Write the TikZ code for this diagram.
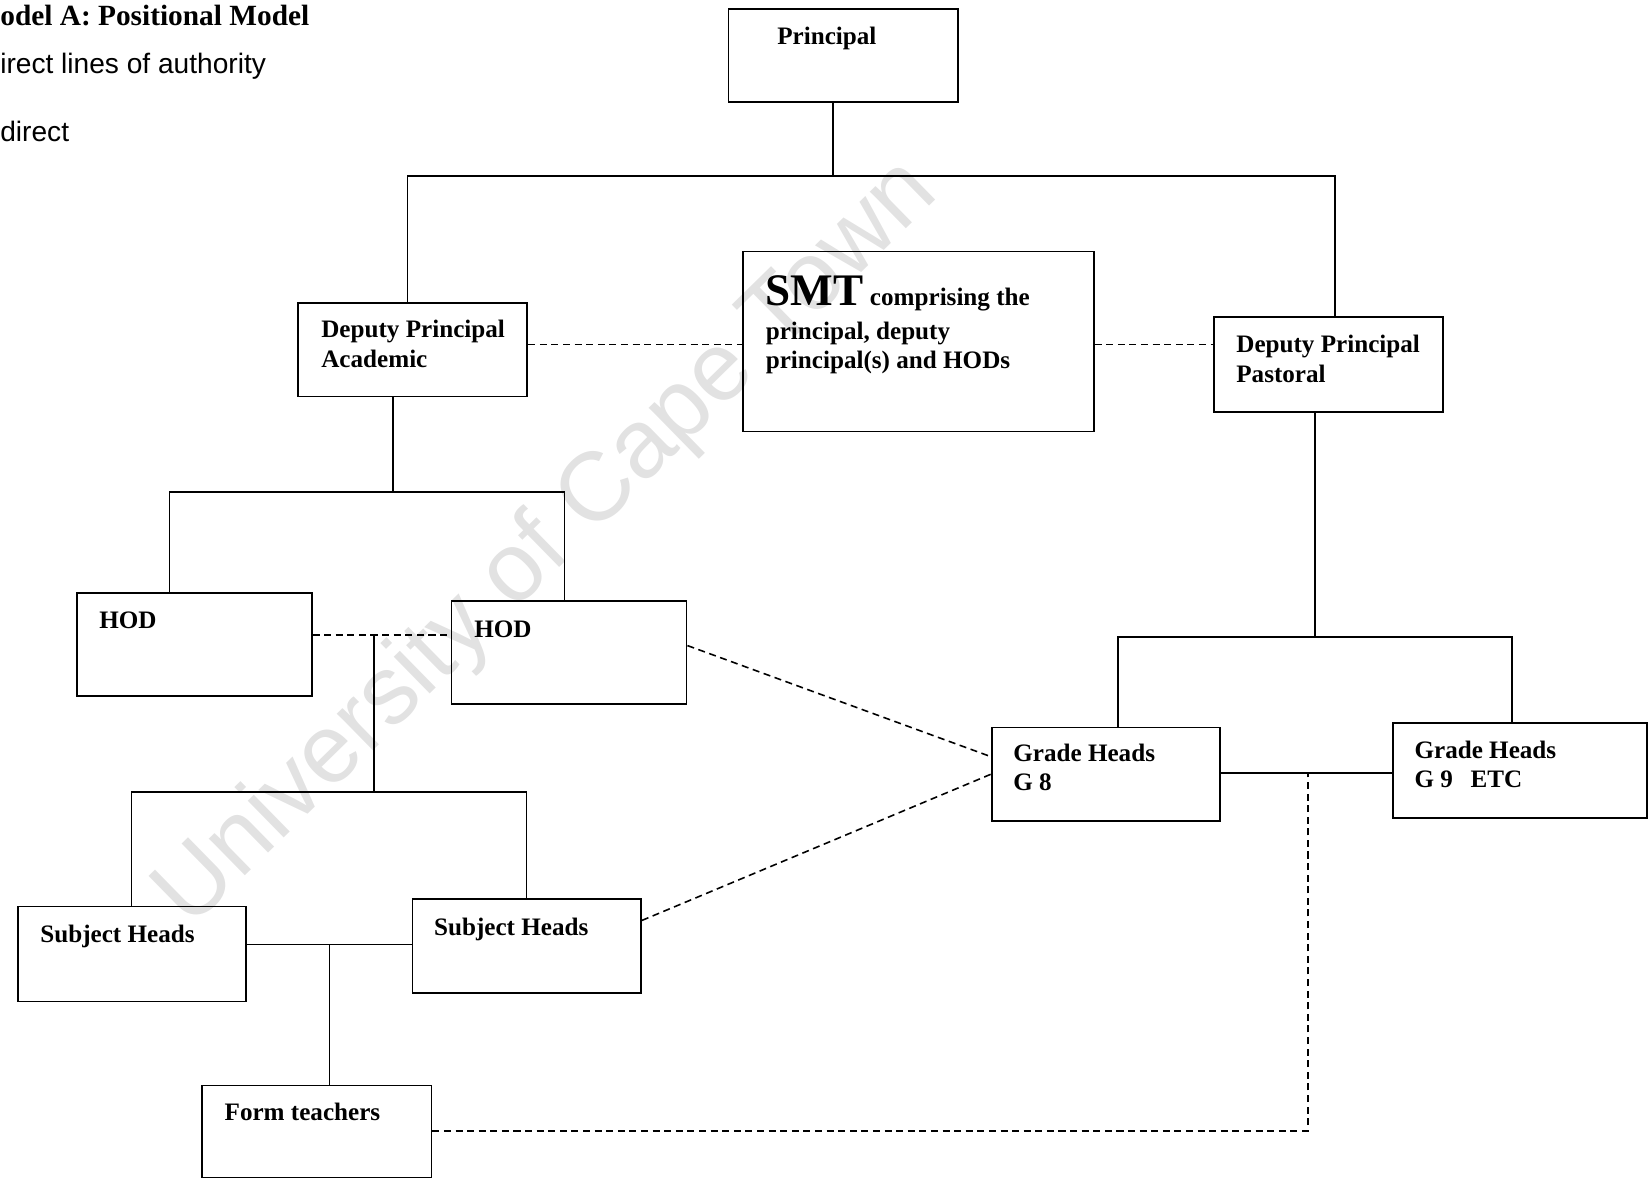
\documentclass[tikz,border=0pt]{standalone}
\usepackage{fontspec}
\usepackage{xcolor}
\setmainfont{Liberation Serif}
\newfontfamily\labelsans{Liberation Sans}

\begin{document}
\begin{tikzpicture}[x=0.02cm,y=-0.02cm,
  orgbox/.style={draw,line width=1pt,anchor=north west,inner sep=0pt},
  boxtext/.style={anchor=base west,inner sep=0pt,align=left,font=\bfseries\fontsize{14.3}{16.8}\selectfont},
  link/.style={line width=1pt},
  softlink/.style={line width=0.9pt,dash pattern=on 4pt off 2.6pt}]
\useasboundingbox (0,0) rectangle (1651,1178);
\definecolor{watermark}{HTML}{E2E2E2}

% watermark
\node[rotate=44.4,text=watermark,font=\labelsans\fontsize{55.4}{56}\selectfont] (wm) at (547.6,544.4) {University of Cape Town};

% heading and key
\node[anchor=base west,inner sep=0pt,font=\bfseries\fontsize{16.7}{18}\selectfont] (title) at (0,25) {odel A: Positional Model};
\node[anchor=base west,inner sep=0pt,font=\labelsans\fontsize{16}{18}\selectfont] (direct) at (0,73.7) {irect lines of authority};
\node[anchor=base west,inner sep=0pt,font=\labelsans\fontsize{16}{18}\selectfont] (indirect) at (0,141) {direct};

% boxes
\node[orgbox,minimum width=4.59cm,minimum height=1.85cm] (principal) at (727.6,8.4) {};
\node[orgbox,minimum width=4.59cm,minimum height=1.87cm] (dpa) at (297,302.2) {};
\node[orgbox,minimum width=7.01cm,minimum height=3.60cm] (smt) at (742.4,250.6) {};
\node[orgbox,minimum width=4.59cm,minimum height=1.90cm] (dpp) at (1213,315.9) {};
\node[orgbox,minimum width=4.70cm,minimum height=2.06cm] (hodA) at (75.8,591.8) {};
\node[orgbox,minimum width=4.70cm,minimum height=2.06cm] (hodB) at (450.7,600.2) {};
\node[orgbox,minimum width=4.57cm,minimum height=1.90cm] (shA) at (16.8,905.6) {};
\node[orgbox,minimum width=4.57cm,minimum height=1.88cm] (shB) at (411.7,898.2) {};
\node[orgbox,minimum width=4.59cm,minimum height=1.84cm] (ft) at (201.1,1084.6) {};
\node[orgbox,minimum width=4.57cm,minimum height=1.87cm] (ghA) at (990.9,726.6) {};
\node[orgbox,minimum width=5.08cm,minimum height=1.89cm] (ghB) at (1392.1,722.4) {};

% box texts (multi-line ones sit on their last baseline)
\node[boxtext] (principal-t) at (777,44) {Principal};
\node[boxtext] (dpa-t) at (321,367.5) {Deputy Principal\\Academic};
\node[boxtext] (smt-t) at (765.5,368.6) {{\fontsize{25.7}{26}\selectfont SMT} comprising the\\[2.6pt]principal, deputy\\principal(s) and HODs};
\node[boxtext] (dpp-t) at (1236,382.2) {Deputy Principal\\Pastoral};
\node[boxtext] (hodA-t) at (99,628.6) {HOD};
\node[boxtext] (hodB-t) at (473.9,637) {HOD};
\node[boxtext] (shA-t) at (40,942.4) {Subject Heads};
\node[boxtext] (shB-t) at (433.8,935) {Subject Heads};
\node[boxtext] (ft-t) at (224.3,1120.4) {Form teachers};
\node[boxtext] (ghA-t) at (1013,790.8) {Grade Heads\\G 8};
\node[boxtext] (ghB-t) at (1414.2,787.6) {Grade Heads\\G 9\hspace{0.7em}ETC};

% junctions
\coordinate (topbar) at (833,175.9);
\coordinate (topL) at (407.5,175.9);
\coordinate (topR) at (1335.2,175.9);
\coordinate (acadbar) at (392.8,491.8);
\coordinate (acadL) at (169.5,491.8);
\coordinate (acadR) at (564.4,491.8);
\coordinate (smtbar) at (742.4,344.3);
\coordinate (hodbar) at (373.8,635);
\coordinate (subjbar) at (373.8,791.9);
\coordinate (subjL) at (131.6,791.9);
\coordinate (subjR) at (526.5,791.9);
\coordinate (formbar) at (329.6,944.5);
\coordinate (pastbar) at (1315.2,637);
\coordinate (pastL) at (1118.3,637);
\coordinate (pastR) at (1512.1,637);
\coordinate (gradebar) at (1307.8,773);
\coordinate (formlink) at (1307.8,1131);

% direct lines
\draw[link] (principal.south -| topbar) -- (topbar);
\draw[link] (dpa.north -| topL) -- (topL) -- (topR) -- (dpp.north -| topR);
\draw[link] (dpa.south -| acadbar) -- (acadbar);
\draw[link] (hodA.north -| acadL) -- (acadL) -- (acadR) -- (hodB.north -| acadR);
\draw[link] (hodbar) -- (subjbar);
\draw[link] (shA.north -| subjL) -- (subjL) -- (subjR) -- (shB.north -| subjR);
\draw[link] (shA.east |- formbar) -- (shB.west |- formbar);
\draw[link] (formbar) -- (ft.north -| formbar);
\draw[link] (dpp.south -| pastbar) -- (pastbar);
\draw[link] (ghA.north -| pastL) -- (pastL) -- (pastR) -- (ghB.north -| pastR);
\draw[link] (ghA.east |- gradebar) -- (ghB.west |- gradebar);

% indirect lines
\draw[softlink] (dpa.east |- smtbar) -- (smt.west |- smtbar);
\draw[softlink] (smt.east |- smtbar) -- (dpp.west |- smtbar);
\draw[softlink] (hodA.east |- hodbar) -- (hodB.west |- hodbar);
\draw[softlink] ([yshift=4pt]hodB.east) -- ([yshift=10pt]ghA.west);
\draw[softlink] ([yshift=14.6pt]shB.east) -- (ghA.west);
\draw[softlink] (ft.east |- formlink) -- (formlink) -- (gradebar);
\end{tikzpicture}
\end{document}
